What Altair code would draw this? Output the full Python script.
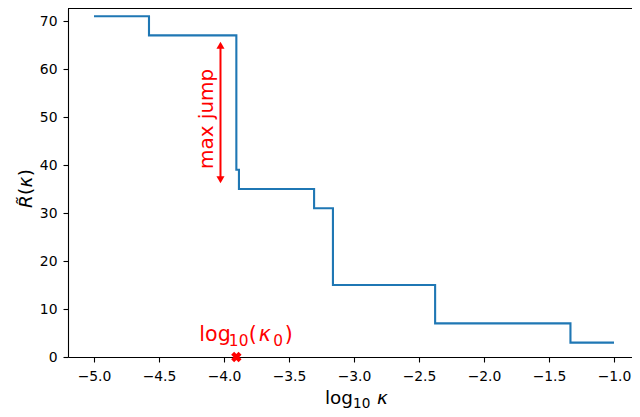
import altair as alt
import pandas as pd

# step function data (log10 kappa, R~)
step_x = [-5.0, -4.577, -3.905, -3.885, -3.307, -3.162, -2.376, -1.335, -1.0]
step_y = [71, 67, 39, 35, 31, 15, 7, 3, 3]

kappa0 = -3.905
arrow_x = -4.027
arrow_top = 65.9
arrow_bottom = 36.0
jump_label_x = -4.133
jump_label_y = 49.6

x_ticks = [-5.0, -4.5, -4.0, -3.5, -3.0, -2.5, -2.0, -1.5, -1.0]
y_ticks = [0, 10, 20, 30, 40, 50, 60, 70]

W, H = 564, 349
PX_PER_UNIT = 130.0
X_DOMAIN = [-5.2, -5.2 + W / PX_PER_UNIT]
Y_DOMAIN = [0, H / 4.8]
FONT = "DejaVu Sans"

df = pd.DataFrame({"x": step_x, "y": step_y})

xs = alt.Scale(domain=X_DOMAIN, nice=False, zero=False)
ys = alt.Scale(domain=Y_DOMAIN, nice=False, zero=False)

line = alt.Chart(df).mark_line(
    interpolate="step-after", color="#1f77b4", strokeWidth=2.1
).encode(
    x=alt.X("x:Q", scale=xs, axis=alt.Axis(
        values=x_ticks, format=".1f", title=None, grid=False,
        labelFontSize=13.9, labelFont=FONT, labelColor="black", labelPadding=7,
        tickColor="black", domainColor="black", tickSize=5, tickWidth=1.1, domainWidth=1.1,
    )),
    y=alt.Y("y:Q", scale=ys, axis=alt.Axis(
        values=y_ticks, format="d", title=None, grid=False,
        labelFontSize=13.9, labelFont=FONT, labelColor="black", labelPadding=6,
        tickColor="black", domainColor="black", tickSize=5, tickWidth=1.1, domainWidth=1.1,
    )),
)

top_spine = alt.Chart(pd.DataFrame({"a": [0]})).mark_rule(color="black", strokeWidth=1.1).encode(
    x=alt.value(0), x2=alt.value(W), y=alt.value(0.5)
)

one = pd.DataFrame({"a": [0]})


def seg(text, x, y, size, style="normal", color="black", angle=0):
    return alt.Chart(one).mark_text(
        text=text, font=FONT, fontSize=size, fontStyle=style, color=color,
        align="left", baseline="alphabetic", angle=angle,
    ).encode(x=alt.value(x), y=alt.value(y))


# x-axis title: log_10 kappa  (plot coords; origin at page (68, 8))
xt = [
    seg("log", 257, 395.5, 18.4),
    seg("10", 285, 399.5, 13.6),
    seg("κ", 309, 395.5, 18.4, "italic"),
]
# y-axis title: R~(kappa), rotated
yt = [
    seg("R̃", -36, 200, 18.5, "italic", angle=270),
    seg("(", -36, 187, 18.5, angle=270),
    seg("κ", -36, 179.5, 18.5, "italic", angle=270),
    seg(")", -36, 168.3, 18.5, angle=270),
]

arrow_df = pd.DataFrame({"x": [arrow_x], "y": [arrow_top - 1.0], "y2": [arrow_bottom + 1.0]})
arrow_line = alt.Chart(arrow_df).mark_rule(color="red", strokeWidth=2).encode(
    x=alt.X("x:Q", scale=xs), y=alt.Y("y:Q", scale=ys), y2="y2:Q"
)
head_df = pd.DataFrame({
    "x": [arrow_x, arrow_x],
    "y": [arrow_top - 0.95, arrow_bottom + 0.95],
    "s": ["triangle-up", "triangle-down"],
})
heads = alt.Chart(head_df).mark_point(filled=True, color="red", opacity=1, size=65).encode(
    x=alt.X("x:Q", scale=xs), y=alt.Y("y:Q", scale=ys),
    shape=alt.Shape("s:N", scale=None, legend=None),
)

jump_text = alt.Chart(pd.DataFrame({"x": [jump_label_x], "y": [jump_label_y], "t": ["max jump"]})).mark_text(
    color="red", fontSize=20, font=FONT, angle=270, align="center", baseline="middle"
).encode(x=alt.X("x:Q", scale=xs), y=alt.Y("y:Q", scale=ys), text="t:N")

# red label log_10(kappa_0), anchored at kappa0 on the x scale
k0_df = pd.DataFrame({"x": [kappa0], "y": [0]})


def k0seg(text, dx, dy, size, style="normal"):
    return alt.Chart(k0_df).mark_text(
        text=text, font=FONT, fontSize=size, fontStyle=style, color="red",
        align="left", baseline="alphabetic", dx=dx, dy=dy,
    ).encode(x=alt.X("x:Q", scale=xs), y=alt.Y("y:Q", scale=ys))


k0_text = [
    k0seg("log", -37, -16, 20.6),
    k0seg("10", -7.5, -11, 15.4),
    k0seg("(", 12.5, -16, 20.6),
    k0seg("κ", 22.5, -16, 20.6, "italic"),
    k0seg("0", 37, -11, 15.4),
    k0seg(")", 48.5, -16, 20.6),
]

k0_mark = alt.Chart(k0_df).mark_point(
    shape="cross", angle=45, filled=True, color="red", opacity=1, size=110
).encode(x=alt.X("x:Q", scale=xs), y=alt.Y("y:Q", scale=ys))

chart = alt.layer(line, top_spine, arrow_line, heads, jump_text, *k0_text, k0_mark, *xt, *yt).properties(
    width=W, height=H,
    autosize=alt.AutoSizeParams(type="none"),
    padding={"left": 60, "top": 0, "right": 0, "bottom": 52},
).configure_view(stroke=None).configure(background="white")

chart.save("out.html", embed_options={"renderer": "svg", "actions": False})
